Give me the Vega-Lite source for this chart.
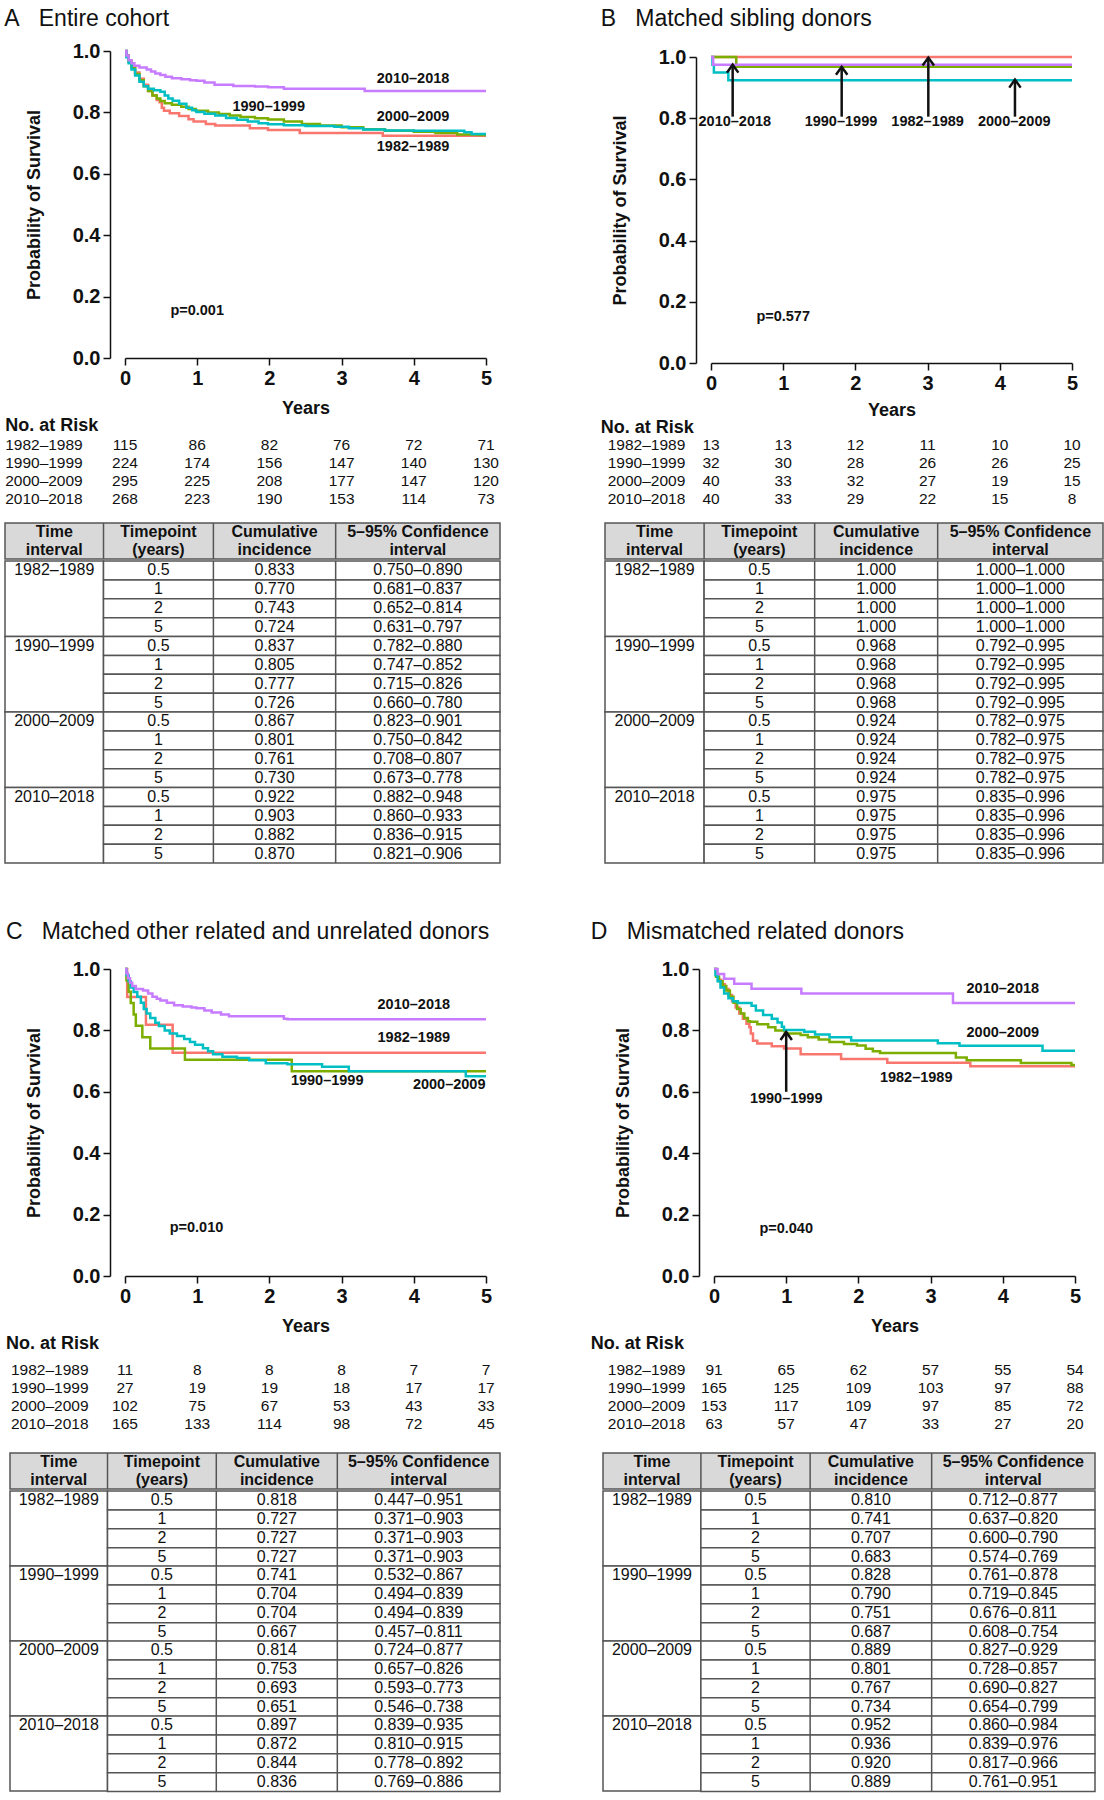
{
"$schema": "https://vega.github.io/schema/vega-lite/v6.json",
"background": "white",
"padding": {"left": 4, "top": 8, "right": 2, "bottom": 2},
"config": {
  "font": "Liberation Sans",
  "view": {"stroke": null},
  "axis": {"grid": false, "tickSize": 7, "labelPadding": 3, "domainColor": "#111", "tickColor": "#111", "domainWidth": 1.5, "tickWidth": 1.5, "labelFontSize": 20, "labelFontWeight": "bold", "titleFontSize": 18, "titleFontWeight": "bold", "labelColor": "#111", "titleColor": "#111", "labelFlush": false},
  "axisX": {"titlePadding": 11},
  "axisY": {"titlePadding": 29, "offset": 15}
},
"datasets": {
  "km": [
    {"panel":"A","period":"1982–1989","t":0,"s":1},{"panel":"A","period":"1982–1989","t":0.02,"s":0.985},{"panel":"A","period":"1982–1989","t":0.05,"s":0.97},{"panel":"A","period":"1982–1989","t":0.09,"s":0.95},{"panel":"A","period":"1982–1989","t":0.14,"s":0.93},{"panel":"A","period":"1982–1989","t":0.2,"s":0.91},{"panel":"A","period":"1982–1989","t":0.26,"s":0.89},{"panel":"A","period":"1982–1989","t":0.32,"s":0.87},{"panel":"A","period":"1982–1989","t":0.38,"s":0.855},{"panel":"A","period":"1982–1989","t":0.44,"s":0.84},{"panel":"A","period":"1982–1989","t":0.48,"s":0.833},{"panel":"A","period":"1982–1989","t":0.51,"s":0.815},{"panel":"A","period":"1982–1989","t":0.54,"s":0.805},{"panel":"A","period":"1982–1989","t":0.62,"s":0.797},{"panel":"A","period":"1982–1989","t":0.75,"s":0.788},{"panel":"A","period":"1982–1989","t":0.88,"s":0.778},{"panel":"A","period":"1982–1989","t":0.95,"s":0.77},{"panel":"A","period":"1982–1989","t":1.12,"s":0.762},{"panel":"A","period":"1982–1989","t":1.25,"s":0.757},{"panel":"A","period":"1982–1989","t":1.73,"s":0.748},{"panel":"A","period":"1982–1989","t":1.98,"s":0.743},{"panel":"A","period":"1982–1989","t":2.42,"s":0.733},{"panel":"A","period":"1982–1989","t":3.57,"s":0.724},{"panel":"A","period":"1982–1989","t":5,"s":0.724},
    {"panel":"A","period":"1990–1999","t":0,"s":1},{"panel":"A","period":"1990–1999","t":0.02,"s":0.985},{"panel":"A","period":"1990–1999","t":0.05,"s":0.965},{"panel":"A","period":"1990–1999","t":0.09,"s":0.945},{"panel":"A","period":"1990–1999","t":0.14,"s":0.925},{"panel":"A","period":"1990–1999","t":0.2,"s":0.905},{"panel":"A","period":"1990–1999","t":0.26,"s":0.885},{"panel":"A","period":"1990–1999","t":0.32,"s":0.87},{"panel":"A","period":"1990–1999","t":0.38,"s":0.855},{"panel":"A","period":"1990–1999","t":0.44,"s":0.845},{"panel":"A","period":"1990–1999","t":0.49,"s":0.837},{"panel":"A","period":"1990–1999","t":0.55,"s":0.83},{"panel":"A","period":"1990–1999","t":0.65,"s":0.825},{"panel":"A","period":"1990–1999","t":0.78,"s":0.818},{"panel":"A","period":"1990–1999","t":0.88,"s":0.811},{"panel":"A","period":"1990–1999","t":0.98,"s":0.805},{"panel":"A","period":"1990–1999","t":1.15,"s":0.8},{"panel":"A","period":"1990–1999","t":1.3,"s":0.795},{"panel":"A","period":"1990–1999","t":1.45,"s":0.79},{"panel":"A","period":"1990–1999","t":1.6,"s":0.785},{"panel":"A","period":"1990–1999","t":1.8,"s":0.781},{"panel":"A","period":"1990–1999","t":1.98,"s":0.777},{"panel":"A","period":"1990–1999","t":2.2,"s":0.77},{"panel":"A","period":"1990–1999","t":2.45,"s":0.762},{"panel":"A","period":"1990–1999","t":2.7,"s":0.757},{"panel":"A","period":"1990–1999","t":3.0,"s":0.752},{"panel":"A","period":"1990–1999","t":3.3,"s":0.745},{"panel":"A","period":"1990–1999","t":3.6,"s":0.74},{"panel":"A","period":"1990–1999","t":4.0,"s":0.737},{"panel":"A","period":"1990–1999","t":4.3,"s":0.733},{"panel":"A","period":"1990–1999","t":4.6,"s":0.728},{"panel":"A","period":"1990–1999","t":4.9,"s":0.726},{"panel":"A","period":"1990–1999","t":5,"s":0.726},
    {"panel":"A","period":"2000–2009","t":0,"s":1},{"panel":"A","period":"2000–2009","t":0.02,"s":0.98},{"panel":"A","period":"2000–2009","t":0.05,"s":0.96},{"panel":"A","period":"2000–2009","t":0.09,"s":0.94},{"panel":"A","period":"2000–2009","t":0.14,"s":0.92},{"panel":"A","period":"2000–2009","t":0.2,"s":0.9},{"panel":"A","period":"2000–2009","t":0.26,"s":0.885},{"panel":"A","period":"2000–2009","t":0.32,"s":0.877},{"panel":"A","period":"2000–2009","t":0.4,"s":0.872},{"panel":"A","period":"2000–2009","t":0.49,"s":0.867},{"panel":"A","period":"2000–2009","t":0.55,"s":0.855},{"panel":"A","period":"2000–2009","t":0.6,"s":0.845},{"panel":"A","period":"2000–2009","t":0.66,"s":0.838},{"panel":"A","period":"2000–2009","t":0.75,"s":0.828},{"panel":"A","period":"2000–2009","t":0.85,"s":0.815},{"panel":"A","period":"2000–2009","t":0.93,"s":0.807},{"panel":"A","period":"2000–2009","t":0.99,"s":0.801},{"panel":"A","period":"2000–2009","t":1.1,"s":0.796},{"panel":"A","period":"2000–2009","t":1.25,"s":0.79},{"panel":"A","period":"2000–2009","t":1.4,"s":0.782},{"panel":"A","period":"2000–2009","t":1.55,"s":0.776},{"panel":"A","period":"2000–2009","t":1.7,"s":0.77},{"panel":"A","period":"2000–2009","t":1.85,"s":0.765},{"panel":"A","period":"2000–2009","t":1.98,"s":0.761},{"panel":"A","period":"2000–2009","t":2.2,"s":0.758},{"panel":"A","period":"2000–2009","t":2.5,"s":0.756},{"panel":"A","period":"2000–2009","t":2.9,"s":0.753},{"panel":"A","period":"2000–2009","t":3.1,"s":0.748},{"panel":"A","period":"2000–2009","t":3.3,"s":0.744},{"panel":"A","period":"2000–2009","t":3.6,"s":0.741},{"panel":"A","period":"2000–2009","t":4.0,"s":0.74},{"panel":"A","period":"2000–2009","t":4.7,"s":0.735},{"panel":"A","period":"2000–2009","t":4.8,"s":0.73},{"panel":"A","period":"2000–2009","t":5,"s":0.73},
    {"panel":"A","period":"2010–2018","t":0,"s":1},{"panel":"A","period":"2010–2018","t":0.02,"s":0.985},{"panel":"A","period":"2010–2018","t":0.05,"s":0.97},{"panel":"A","period":"2010–2018","t":0.09,"s":0.96},{"panel":"A","period":"2010–2018","t":0.13,"s":0.952},{"panel":"A","period":"2010–2018","t":0.2,"s":0.946},{"panel":"A","period":"2010–2018","t":0.3,"s":0.94},{"panel":"A","period":"2010–2018","t":0.36,"s":0.933},{"panel":"A","period":"2010–2018","t":0.42,"s":0.927},{"panel":"A","period":"2010–2018","t":0.49,"s":0.922},{"panel":"A","period":"2010–2018","t":0.56,"s":0.916},{"panel":"A","period":"2010–2018","t":0.65,"s":0.911},{"panel":"A","period":"2010–2018","t":0.78,"s":0.908},{"panel":"A","period":"2010–2018","t":0.9,"s":0.905},{"panel":"A","period":"2010–2018","t":0.99,"s":0.903},{"panel":"A","period":"2010–2018","t":1.1,"s":0.897},{"panel":"A","period":"2010–2018","t":1.24,"s":0.89},{"panel":"A","period":"2010–2018","t":1.5,"s":0.886},{"panel":"A","period":"2010–2018","t":1.8,"s":0.884},{"panel":"A","period":"2010–2018","t":1.98,"s":0.882},{"panel":"A","period":"2010–2018","t":2.2,"s":0.877},{"panel":"A","period":"2010–2018","t":3.32,"s":0.87},{"panel":"A","period":"2010–2018","t":5,"s":0.87},

    {"panel":"B","period":"1982–1989","t":0,"s":1},{"panel":"B","period":"1982–1989","t":5,"s":1},
    {"panel":"B","period":"1990–1999","t":0,"s":1},{"panel":"B","period":"1990–1999","t":0.35,"s":0.968},{"panel":"B","period":"1990–1999","t":5,"s":0.968},
    {"panel":"B","period":"2000–2009","t":0,"s":1},{"panel":"B","period":"2000–2009","t":0.02,"s":0.975},{"panel":"B","period":"2000–2009","t":0.04,"s":0.949},{"panel":"B","period":"2000–2009","t":0.24,"s":0.924},{"panel":"B","period":"2000–2009","t":5,"s":0.924},
    {"panel":"B","period":"2010–2018","t":0,"s":1},{"panel":"B","period":"2010–2018","t":0.03,"s":0.975},{"panel":"B","period":"2010–2018","t":5,"s":0.975},

    {"panel":"C","period":"1982–1989","t":0,"s":1},{"panel":"C","period":"1982–1989","t":0.03,"s":0.909},{"panel":"C","period":"1982–1989","t":0.29,"s":0.818},{"panel":"C","period":"1982–1989","t":0.66,"s":0.727},{"panel":"C","period":"1982–1989","t":5,"s":0.727},
    {"panel":"C","period":"1990–1999","t":0,"s":1},{"panel":"C","period":"1990–1999","t":0.02,"s":0.963},{"panel":"C","period":"1990–1999","t":0.05,"s":0.926},{"panel":"C","period":"1990–1999","t":0.08,"s":0.889},{"panel":"C","period":"1990–1999","t":0.12,"s":0.852},{"panel":"C","period":"1990–1999","t":0.15,"s":0.815},{"panel":"C","period":"1990–1999","t":0.24,"s":0.778},{"panel":"C","period":"1990–1999","t":0.35,"s":0.741},{"panel":"C","period":"1990–1999","t":0.83,"s":0.704},{"panel":"C","period":"1990–1999","t":2.31,"s":0.667},{"panel":"C","period":"1990–1999","t":5,"s":0.667},
    {"panel":"C","period":"2000–2009","t":0,"s":1},{"panel":"C","period":"2000–2009","t":0.02,"s":0.98},{"panel":"C","period":"2000–2009","t":0.05,"s":0.96},{"panel":"C","period":"2000–2009","t":0.08,"s":0.94},{"panel":"C","period":"2000–2009","t":0.12,"s":0.925},{"panel":"C","period":"2000–2009","t":0.17,"s":0.91},{"panel":"C","period":"2000–2009","t":0.22,"s":0.89},{"panel":"C","period":"2000–2009","t":0.26,"s":0.87},{"panel":"C","period":"2000–2009","t":0.3,"s":0.855},{"panel":"C","period":"2000–2009","t":0.35,"s":0.84},{"panel":"C","period":"2000–2009","t":0.42,"s":0.825},{"panel":"C","period":"2000–2009","t":0.47,"s":0.814},{"panel":"C","period":"2000–2009","t":0.55,"s":0.8},{"panel":"C","period":"2000–2009","t":0.62,"s":0.79},{"panel":"C","period":"2000–2009","t":0.72,"s":0.782},{"panel":"C","period":"2000–2009","t":0.82,"s":0.772},{"panel":"C","period":"2000–2009","t":0.9,"s":0.762},{"panel":"C","period":"2000–2009","t":0.97,"s":0.753},{"panel":"C","period":"2000–2009","t":1.08,"s":0.742},{"panel":"C","period":"2000–2009","t":1.15,"s":0.732},{"panel":"C","period":"2000–2009","t":1.22,"s":0.722},{"panel":"C","period":"2000–2009","t":1.35,"s":0.714},{"panel":"C","period":"2000–2009","t":1.55,"s":0.71},{"panel":"C","period":"2000–2009","t":1.72,"s":0.703},{"panel":"C","period":"2000–2009","t":1.95,"s":0.693},{"panel":"C","period":"2000–2009","t":2.25,"s":0.69},{"panel":"C","period":"2000–2009","t":2.73,"s":0.682},{"panel":"C","period":"2000–2009","t":3.1,"s":0.667},{"panel":"C","period":"2000–2009","t":4.72,"s":0.651},{"panel":"C","period":"2000–2009","t":5,"s":0.651},
    {"panel":"C","period":"2010–2018","t":0,"s":1},{"panel":"C","period":"2010–2018","t":0.02,"s":0.985},{"panel":"C","period":"2010–2018","t":0.04,"s":0.97},{"panel":"C","period":"2010–2018","t":0.07,"s":0.955},{"panel":"C","period":"2010–2018","t":0.1,"s":0.945},{"panel":"C","period":"2010–2018","t":0.15,"s":0.935},{"panel":"C","period":"2010–2018","t":0.25,"s":0.93},{"panel":"C","period":"2010–2018","t":0.32,"s":0.92},{"panel":"C","period":"2010–2018","t":0.38,"s":0.91},{"panel":"C","period":"2010–2018","t":0.44,"s":0.903},{"panel":"C","period":"2010–2018","t":0.49,"s":0.897},{"panel":"C","period":"2010–2018","t":0.58,"s":0.89},{"panel":"C","period":"2010–2018","t":0.68,"s":0.882},{"panel":"C","period":"2010–2018","t":0.8,"s":0.878},{"panel":"C","period":"2010–2018","t":0.92,"s":0.875},{"panel":"C","period":"2010–2018","t":0.99,"s":0.872},{"panel":"C","period":"2010–2018","t":1.1,"s":0.865},{"panel":"C","period":"2010–2018","t":1.2,"s":0.858},{"panel":"C","period":"2010–2018","t":1.33,"s":0.852},{"panel":"C","period":"2010–2018","t":1.44,"s":0.846},{"panel":"C","period":"2010–2018","t":2.2,"s":0.838},{"panel":"C","period":"2010–2018","t":2.25,"s":0.836},{"panel":"C","period":"2010–2018","t":5,"s":0.836},

    {"panel":"D","period":"1982–1989","t":0,"s":1},{"panel":"D","period":"1982–1989","t":0.03,"s":0.98},{"panel":"D","period":"1982–1989","t":0.06,"s":0.965},{"panel":"D","period":"1982–1989","t":0.1,"s":0.95},{"panel":"D","period":"1982–1989","t":0.15,"s":0.935},{"panel":"D","period":"1982–1989","t":0.2,"s":0.915},{"panel":"D","period":"1982–1989","t":0.25,"s":0.895},{"panel":"D","period":"1982–1989","t":0.3,"s":0.875},{"panel":"D","period":"1982–1989","t":0.35,"s":0.855},{"panel":"D","period":"1982–1989","t":0.4,"s":0.838},{"panel":"D","period":"1982–1989","t":0.45,"s":0.822},{"panel":"D","period":"1982–1989","t":0.49,"s":0.81},{"panel":"D","period":"1982–1989","t":0.51,"s":0.79},{"panel":"D","period":"1982–1989","t":0.54,"s":0.766},{"panel":"D","period":"1982–1989","t":0.6,"s":0.757},{"panel":"D","period":"1982–1989","t":0.8,"s":0.748},{"panel":"D","period":"1982–1989","t":0.97,"s":0.741},{"panel":"D","period":"1982–1989","t":1.2,"s":0.722},{"panel":"D","period":"1982–1989","t":1.76,"s":0.707},{"panel":"D","period":"1982–1989","t":2.4,"s":0.695},{"panel":"D","period":"1982–1989","t":3.55,"s":0.683},{"panel":"D","period":"1982–1989","t":5,"s":0.683},
    {"panel":"D","period":"1990–1999","t":0,"s":1},{"panel":"D","period":"1990–1999","t":0.03,"s":0.975},{"panel":"D","period":"1990–1999","t":0.07,"s":0.96},{"panel":"D","period":"1990–1999","t":0.12,"s":0.945},{"panel":"D","period":"1990–1999","t":0.17,"s":0.93},{"panel":"D","period":"1990–1999","t":0.22,"s":0.91},{"panel":"D","period":"1990–1999","t":0.27,"s":0.89},{"panel":"D","period":"1990–1999","t":0.32,"s":0.87},{"panel":"D","period":"1990–1999","t":0.37,"s":0.855},{"panel":"D","period":"1990–1999","t":0.42,"s":0.84},{"panel":"D","period":"1990–1999","t":0.47,"s":0.83},{"panel":"D","period":"1990–1999","t":0.5,"s":0.828},{"panel":"D","period":"1990–1999","t":0.6,"s":0.82},{"panel":"D","period":"1990–1999","t":0.75,"s":0.81},{"panel":"D","period":"1990–1999","t":0.85,"s":0.8},{"panel":"D","period":"1990–1999","t":0.98,"s":0.79},{"panel":"D","period":"1990–1999","t":1.2,"s":0.785},{"panel":"D","period":"1990–1999","t":1.3,"s":0.778},{"panel":"D","period":"1990–1999","t":1.45,"s":0.77},{"panel":"D","period":"1990–1999","t":1.6,"s":0.762},{"panel":"D","period":"1990–1999","t":1.8,"s":0.756},{"panel":"D","period":"1990–1999","t":1.98,"s":0.751},{"panel":"D","period":"1990–1999","t":2.1,"s":0.74},{"panel":"D","period":"1990–1999","t":2.2,"s":0.732},{"panel":"D","period":"1990–1999","t":2.3,"s":0.726},{"panel":"D","period":"1990–1999","t":3.35,"s":0.712},{"panel":"D","period":"1990–1999","t":3.5,"s":0.703},{"panel":"D","period":"1990–1999","t":4.25,"s":0.694},{"panel":"D","period":"1990–1999","t":4.95,"s":0.687},{"panel":"D","period":"1990–1999","t":5,"s":0.687},
    {"panel":"D","period":"2000–2009","t":0,"s":1},{"panel":"D","period":"2000–2009","t":0.02,"s":0.98},{"panel":"D","period":"2000–2009","t":0.05,"s":0.96},{"panel":"D","period":"2000–2009","t":0.09,"s":0.94},{"panel":"D","period":"2000–2009","t":0.14,"s":0.92},{"panel":"D","period":"2000–2009","t":0.2,"s":0.905},{"panel":"D","period":"2000–2009","t":0.26,"s":0.895},{"panel":"D","period":"2000–2009","t":0.33,"s":0.889},{"panel":"D","period":"2000–2009","t":0.52,"s":0.88},{"panel":"D","period":"2000–2009","t":0.58,"s":0.865},{"panel":"D","period":"2000–2009","t":0.68,"s":0.85},{"panel":"D","period":"2000–2009","t":0.8,"s":0.838},{"panel":"D","period":"2000–2009","t":0.88,"s":0.826},{"panel":"D","period":"2000–2009","t":0.94,"s":0.812},{"panel":"D","period":"2000–2009","t":0.97,"s":0.801},{"panel":"D","period":"2000–2009","t":1.25,"s":0.796},{"panel":"D","period":"2000–2009","t":1.4,"s":0.787},{"panel":"D","period":"2000–2009","t":1.6,"s":0.778},{"panel":"D","period":"2000–2009","t":1.9,"s":0.767},{"panel":"D","period":"2000–2009","t":3.1,"s":0.758},{"panel":"D","period":"2000–2009","t":3.4,"s":0.75},{"panel":"D","period":"2000–2009","t":4.55,"s":0.734},{"panel":"D","period":"2000–2009","t":5,"s":0.734},
    {"panel":"D","period":"2010–2018","t":0,"s":1},{"panel":"D","period":"2010–2018","t":0.05,"s":0.984},{"panel":"D","period":"2010–2018","t":0.14,"s":0.968},{"panel":"D","period":"2010–2018","t":0.28,"s":0.952},{"panel":"D","period":"2010–2018","t":0.52,"s":0.936},{"panel":"D","period":"2010–2018","t":1.21,"s":0.92},{"panel":"D","period":"2010–2018","t":3.31,"s":0.889},{"panel":"D","period":"2010–2018","t":5,"s":0.889}
  ],
  "ann": [
    {"panel":"A","label":"2010–2018","t":3.99,"s":0.909},{"panel":"A","label":"1990–1999","t":1.99,"s":0.818},{"panel":"A","label":"2000–2009","t":3.99,"s":0.785},{"panel":"A","label":"1982–1989","t":3.99,"s":0.687},{"panel":"A","label":"p=0.001","t":1.0,"s":0.153},
    {"panel":"B","label":"2010–2018","t":0.33,"s":0.786},{"panel":"B","label":"1990–1999","t":1.8,"s":0.786},{"panel":"B","label":"1982–1989","t":3.0,"s":0.786},{"panel":"B","label":"2000–2009","t":4.2,"s":0.786},{"panel":"B","label":"p=0.577","t":1.0,"s":0.151},
    {"panel":"C","label":"2010–2018","t":4.0,"s":0.883},{"panel":"C","label":"1982–1989","t":4.0,"s":0.775},{"panel":"C","label":"1990–1999","t":2.8,"s":0.634},{"panel":"C","label":"2000–2009","t":4.49,"s":0.622},{"panel":"C","label":"p=0.010","t":0.99,"s":0.157},
    {"panel":"D","label":"2010–2018","t":4.0,"s":0.935},{"panel":"D","label":"2000–2009","t":4.0,"s":0.79},{"panel":"D","label":"1982–1989","t":2.8,"s":0.645},{"panel":"D","label":"1990–1999","t":1.0,"s":0.577},{"panel":"D","label":"p=0.040","t":1.0,"s":0.154}
  ],
  "arrows": [
    {"panel":"B","t":0.3,"s0":0.805,"s1":0.975},{"panel":"B","t":1.81,"s0":0.805,"s1":0.968},{"panel":"B","t":3.01,"s0":0.805,"s1":0.998},{"panel":"B","t":4.21,"s0":0.805,"s1":0.926},
    {"panel":"D","t":1.0,"s0":0.6,"s1":0.795}
  ],
  "risk": [
    {"panel":"A","period":"1982–1989","t":0,"n":115},{"panel":"A","period":"1982–1989","t":1,"n":86},{"panel":"A","period":"1982–1989","t":2,"n":82},{"panel":"A","period":"1982–1989","t":3,"n":76},{"panel":"A","period":"1982–1989","t":4,"n":72},{"panel":"A","period":"1982–1989","t":5,"n":71},
    {"panel":"A","period":"1990–1999","t":0,"n":224},{"panel":"A","period":"1990–1999","t":1,"n":174},{"panel":"A","period":"1990–1999","t":2,"n":156},{"panel":"A","period":"1990–1999","t":3,"n":147},{"panel":"A","period":"1990–1999","t":4,"n":140},{"panel":"A","period":"1990–1999","t":5,"n":130},
    {"panel":"A","period":"2000–2009","t":0,"n":295},{"panel":"A","period":"2000–2009","t":1,"n":225},{"panel":"A","period":"2000–2009","t":2,"n":208},{"panel":"A","period":"2000–2009","t":3,"n":177},{"panel":"A","period":"2000–2009","t":4,"n":147},{"panel":"A","period":"2000–2009","t":5,"n":120},
    {"panel":"A","period":"2010–2018","t":0,"n":268},{"panel":"A","period":"2010–2018","t":1,"n":223},{"panel":"A","period":"2010–2018","t":2,"n":190},{"panel":"A","period":"2010–2018","t":3,"n":153},{"panel":"A","period":"2010–2018","t":4,"n":114},{"panel":"A","period":"2010–2018","t":5,"n":73},
    {"panel":"B","period":"1982–1989","t":0,"n":13},{"panel":"B","period":"1982–1989","t":1,"n":13},{"panel":"B","period":"1982–1989","t":2,"n":12},{"panel":"B","period":"1982–1989","t":3,"n":11},{"panel":"B","period":"1982–1989","t":4,"n":10},{"panel":"B","period":"1982–1989","t":5,"n":10},
    {"panel":"B","period":"1990–1999","t":0,"n":32},{"panel":"B","period":"1990–1999","t":1,"n":30},{"panel":"B","period":"1990–1999","t":2,"n":28},{"panel":"B","period":"1990–1999","t":3,"n":26},{"panel":"B","period":"1990–1999","t":4,"n":26},{"panel":"B","period":"1990–1999","t":5,"n":25},
    {"panel":"B","period":"2000–2009","t":0,"n":40},{"panel":"B","period":"2000–2009","t":1,"n":33},{"panel":"B","period":"2000–2009","t":2,"n":32},{"panel":"B","period":"2000–2009","t":3,"n":27},{"panel":"B","period":"2000–2009","t":4,"n":19},{"panel":"B","period":"2000–2009","t":5,"n":15},
    {"panel":"B","period":"2010–2018","t":0,"n":40},{"panel":"B","period":"2010–2018","t":1,"n":33},{"panel":"B","period":"2010–2018","t":2,"n":29},{"panel":"B","period":"2010–2018","t":3,"n":22},{"panel":"B","period":"2010–2018","t":4,"n":15},{"panel":"B","period":"2010–2018","t":5,"n":8},
    {"panel":"C","period":"1982–1989","t":0,"n":11},{"panel":"C","period":"1982–1989","t":1,"n":8},{"panel":"C","period":"1982–1989","t":2,"n":8},{"panel":"C","period":"1982–1989","t":3,"n":8},{"panel":"C","period":"1982–1989","t":4,"n":7},{"panel":"C","period":"1982–1989","t":5,"n":7},
    {"panel":"C","period":"1990–1999","t":0,"n":27},{"panel":"C","period":"1990–1999","t":1,"n":19},{"panel":"C","period":"1990–1999","t":2,"n":19},{"panel":"C","period":"1990–1999","t":3,"n":18},{"panel":"C","period":"1990–1999","t":4,"n":17},{"panel":"C","period":"1990–1999","t":5,"n":17},
    {"panel":"C","period":"2000–2009","t":0,"n":102},{"panel":"C","period":"2000–2009","t":1,"n":75},{"panel":"C","period":"2000–2009","t":2,"n":67},{"panel":"C","period":"2000–2009","t":3,"n":53},{"panel":"C","period":"2000–2009","t":4,"n":43},{"panel":"C","period":"2000–2009","t":5,"n":33},
    {"panel":"C","period":"2010–2018","t":0,"n":165},{"panel":"C","period":"2010–2018","t":1,"n":133},{"panel":"C","period":"2010–2018","t":2,"n":114},{"panel":"C","period":"2010–2018","t":3,"n":98},{"panel":"C","period":"2010–2018","t":4,"n":72},{"panel":"C","period":"2010–2018","t":5,"n":45},
    {"panel":"D","period":"1982–1989","t":0,"n":91},{"panel":"D","period":"1982–1989","t":1,"n":65},{"panel":"D","period":"1982–1989","t":2,"n":62},{"panel":"D","period":"1982–1989","t":3,"n":57},{"panel":"D","period":"1982–1989","t":4,"n":55},{"panel":"D","period":"1982–1989","t":5,"n":54},
    {"panel":"D","period":"1990–1999","t":0,"n":165},{"panel":"D","period":"1990–1999","t":1,"n":125},{"panel":"D","period":"1990–1999","t":2,"n":109},{"panel":"D","period":"1990–1999","t":3,"n":103},{"panel":"D","period":"1990–1999","t":4,"n":97},{"panel":"D","period":"1990–1999","t":5,"n":88},
    {"panel":"D","period":"2000–2009","t":0,"n":153},{"panel":"D","period":"2000–2009","t":1,"n":117},{"panel":"D","period":"2000–2009","t":2,"n":109},{"panel":"D","period":"2000–2009","t":3,"n":97},{"panel":"D","period":"2000–2009","t":4,"n":85},{"panel":"D","period":"2000–2009","t":5,"n":72},
    {"panel":"D","period":"2010–2018","t":0,"n":63},{"panel":"D","period":"2010–2018","t":1,"n":57},{"panel":"D","period":"2010–2018","t":2,"n":47},{"panel":"D","period":"2010–2018","t":3,"n":33},{"panel":"D","period":"2010–2018","t":4,"n":27},{"panel":"D","period":"2010–2018","t":5,"n":20}
  ],
  "thead": [
    {"line":"1","c1":"Time","c2":"Timepoint","c3":"Cumulative","c4":"5–95% Confidence"},
    {"line":"2","c1":"interval","c2":"(years)","c3":"incidence","c4":"interval"}
  ],
  "tbl": [
    {"panel":"A","period":"1982–1989","tp":"0.5","ci":"0.833","conf":"0.750–0.890"},{"panel":"A","period":"1982–1989","tp":"1","ci":"0.770","conf":"0.681–0.837"},{"panel":"A","period":"1982–1989","tp":"2","ci":"0.743","conf":"0.652–0.814"},{"panel":"A","period":"1982–1989","tp":"5","ci":"0.724","conf":"0.631–0.797"},
    {"panel":"A","period":"1990–1999","tp":"0.5","ci":"0.837","conf":"0.782–0.880"},{"panel":"A","period":"1990–1999","tp":"1","ci":"0.805","conf":"0.747–0.852"},{"panel":"A","period":"1990–1999","tp":"2","ci":"0.777","conf":"0.715–0.826"},{"panel":"A","period":"1990–1999","tp":"5","ci":"0.726","conf":"0.660–0.780"},
    {"panel":"A","period":"2000–2009","tp":"0.5","ci":"0.867","conf":"0.823–0.901"},{"panel":"A","period":"2000–2009","tp":"1","ci":"0.801","conf":"0.750–0.842"},{"panel":"A","period":"2000–2009","tp":"2","ci":"0.761","conf":"0.708–0.807"},{"panel":"A","period":"2000–2009","tp":"5","ci":"0.730","conf":"0.673–0.778"},
    {"panel":"A","period":"2010–2018","tp":"0.5","ci":"0.922","conf":"0.882–0.948"},{"panel":"A","period":"2010–2018","tp":"1","ci":"0.903","conf":"0.860–0.933"},{"panel":"A","period":"2010–2018","tp":"2","ci":"0.882","conf":"0.836–0.915"},{"panel":"A","period":"2010–2018","tp":"5","ci":"0.870","conf":"0.821–0.906"},
    {"panel":"B","period":"1982–1989","tp":"0.5","ci":"1.000","conf":"1.000–1.000"},{"panel":"B","period":"1982–1989","tp":"1","ci":"1.000","conf":"1.000–1.000"},{"panel":"B","period":"1982–1989","tp":"2","ci":"1.000","conf":"1.000–1.000"},{"panel":"B","period":"1982–1989","tp":"5","ci":"1.000","conf":"1.000–1.000"},
    {"panel":"B","period":"1990–1999","tp":"0.5","ci":"0.968","conf":"0.792–0.995"},{"panel":"B","period":"1990–1999","tp":"1","ci":"0.968","conf":"0.792–0.995"},{"panel":"B","period":"1990–1999","tp":"2","ci":"0.968","conf":"0.792–0.995"},{"panel":"B","period":"1990–1999","tp":"5","ci":"0.968","conf":"0.792–0.995"},
    {"panel":"B","period":"2000–2009","tp":"0.5","ci":"0.924","conf":"0.782–0.975"},{"panel":"B","period":"2000–2009","tp":"1","ci":"0.924","conf":"0.782–0.975"},{"panel":"B","period":"2000–2009","tp":"2","ci":"0.924","conf":"0.782–0.975"},{"panel":"B","period":"2000–2009","tp":"5","ci":"0.924","conf":"0.782–0.975"},
    {"panel":"B","period":"2010–2018","tp":"0.5","ci":"0.975","conf":"0.835–0.996"},{"panel":"B","period":"2010–2018","tp":"1","ci":"0.975","conf":"0.835–0.996"},{"panel":"B","period":"2010–2018","tp":"2","ci":"0.975","conf":"0.835–0.996"},{"panel":"B","period":"2010–2018","tp":"5","ci":"0.975","conf":"0.835–0.996"},
    {"panel":"C","period":"1982–1989","tp":"0.5","ci":"0.818","conf":"0.447–0.951"},{"panel":"C","period":"1982–1989","tp":"1","ci":"0.727","conf":"0.371–0.903"},{"panel":"C","period":"1982–1989","tp":"2","ci":"0.727","conf":"0.371–0.903"},{"panel":"C","period":"1982–1989","tp":"5","ci":"0.727","conf":"0.371–0.903"},
    {"panel":"C","period":"1990–1999","tp":"0.5","ci":"0.741","conf":"0.532–0.867"},{"panel":"C","period":"1990–1999","tp":"1","ci":"0.704","conf":"0.494–0.839"},{"panel":"C","period":"1990–1999","tp":"2","ci":"0.704","conf":"0.494–0.839"},{"panel":"C","period":"1990–1999","tp":"5","ci":"0.667","conf":"0.457–0.811"},
    {"panel":"C","period":"2000–2009","tp":"0.5","ci":"0.814","conf":"0.724–0.877"},{"panel":"C","period":"2000–2009","tp":"1","ci":"0.753","conf":"0.657–0.826"},{"panel":"C","period":"2000–2009","tp":"2","ci":"0.693","conf":"0.593–0.773"},{"panel":"C","period":"2000–2009","tp":"5","ci":"0.651","conf":"0.546–0.738"},
    {"panel":"C","period":"2010–2018","tp":"0.5","ci":"0.897","conf":"0.839–0.935"},{"panel":"C","period":"2010–2018","tp":"1","ci":"0.872","conf":"0.810–0.915"},{"panel":"C","period":"2010–2018","tp":"2","ci":"0.844","conf":"0.778–0.892"},{"panel":"C","period":"2010–2018","tp":"5","ci":"0.836","conf":"0.769–0.886"},
    {"panel":"D","period":"1982–1989","tp":"0.5","ci":"0.810","conf":"0.712–0.877"},{"panel":"D","period":"1982–1989","tp":"1","ci":"0.741","conf":"0.637–0.820"},{"panel":"D","period":"1982–1989","tp":"2","ci":"0.707","conf":"0.600–0.790"},{"panel":"D","period":"1982–1989","tp":"5","ci":"0.683","conf":"0.574–0.769"},
    {"panel":"D","period":"1990–1999","tp":"0.5","ci":"0.828","conf":"0.761–0.878"},{"panel":"D","period":"1990–1999","tp":"1","ci":"0.790","conf":"0.719–0.845"},{"panel":"D","period":"1990–1999","tp":"2","ci":"0.751","conf":"0.676–0.811"},{"panel":"D","period":"1990–1999","tp":"5","ci":"0.687","conf":"0.608–0.754"},
    {"panel":"D","period":"2000–2009","tp":"0.5","ci":"0.889","conf":"0.827–0.929"},{"panel":"D","period":"2000–2009","tp":"1","ci":"0.801","conf":"0.728–0.857"},{"panel":"D","period":"2000–2009","tp":"2","ci":"0.767","conf":"0.690–0.827"},{"panel":"D","period":"2000–2009","tp":"5","ci":"0.734","conf":"0.654–0.799"},
    {"panel":"D","period":"2010–2018","tp":"0.5","ci":"0.952","conf":"0.860–0.984"},{"panel":"D","period":"2010–2018","tp":"1","ci":"0.936","conf":"0.839–0.976"},{"panel":"D","period":"2010–2018","tp":"2","ci":"0.920","conf":"0.817–0.966"},{"panel":"D","period":"2010–2018","tp":"5","ci":"0.889","conf":"0.761–0.951"}
  ]
},
"spacing": 57,
"vconcat": [
 {"spacing": 99, "hconcat": [
  {
   "title": {"text": "A\u00a0\u00a0\u00a0Entire cohort", "anchor": "start", "frame": "bounds", "fontSize": 23, "fontWeight": "normal", "offset": 10, "color": "#111"},
   "spacing": 0,
   "vconcat": [
    {"width": 361, "height": 307, "layer": [
      {"data": {"name": "km"}, "transform": [{"filter": "datum.panel == 'A'"}],
       "mark": {"type": "line", "interpolate": "step-after", "strokeWidth": 2.5},
       "encoding": {
         "x": {"field": "t", "type": "quantitative", "scale": {"domain": [0, 5], "nice": false, "zero": false}, "axis": {"values": [0,1,2,3,4,5], "format": "d", "title": "Years"}},
         "y": {"field": "s", "type": "quantitative", "scale": {"domain": [0, 1], "nice": false}, "axis": {"values": [0,0.2,0.4,0.6,0.8,1], "format": ".1f", "title": "Probability of Survival"}},
         "color": {"field": "period", "type": "nominal", "scale": {"domain": ["1982–1989","1990–1999","2000–2009","2010–2018"], "range": ["#F8766D","#7CAE00","#00BFC4","#C77CFF"]}, "legend": null}}},
      {"data": {"name": "ann"}, "transform": [{"filter": "datum.panel == 'A'"}],
       "mark": {"type": "text", "fontSize": 14.5, "fontWeight": "bold", "color": "#111"},
       "encoding": {"x": {"field": "t", "type": "quantitative"}, "y": {"field": "s", "type": "quantitative"}, "text": {"field": "label"}}}
    ]},
    {"width": 361, "height": 86,
     "title": {"text": "No. at Risk", "anchor": "start", "frame": "bounds", "fontSize": 18, "fontWeight": "bold", "offset": 1, "color": "#111"},
     "data": {"name": "risk"}, "transform": [{"filter": "datum.panel == 'A'"}],
     "layer": [
      {"mark": {"type": "text", "fontSize": 15.5, "color": "#111"},
       "encoding": {"x": {"field": "t", "type": "quantitative", "scale": {"domain": [0, 5], "nice": false}, "axis": null},
                    "y": {"field": "period", "type": "nominal", "scale": {"type": "band", "domain": ["1982–1989","1990–1999","2000–2009","2010–2018"], "paddingInner": 0, "paddingOuter": 0.389, "align": 0}, "axis": null},
                    "text": {"field": "n"}}},
      {"transform": [{"filter": "datum.t == 0"}],
       "mark": {"type": "text", "fontSize": 15.5, "align": "left", "color": "#111"},
       "encoding": {"x": {"datum": -1.66, "type": "quantitative"}, "y": {"field": "period", "type": "nominal", "axis": null}, "text": {"field": "period"}}}
     ]},
    {"width": 361, "height": 36, "layer": [
      {"data": {"values": [{}]}, "mark": {"type": "rect", "fill": "#d9d9d9", "stroke": "#555", "strokeWidth": 1.5},
       "encoding": {"x": {"datum": 0, "type": "quantitative", "scale": {"domain": [0, 100], "range": [-120, 375]}, "axis": null}, "x2": {"datum": 100}}},
      {"data": {"values": [{}]}, "mark": {"type": "rule", "stroke": "#555", "strokeWidth": 1.5}, "encoding": {"x": {"datum": 19.9, "type": "quantitative"}}},
      {"data": {"values": [{}]}, "mark": {"type": "rule", "stroke": "#555", "strokeWidth": 1.5}, "encoding": {"x": {"datum": 42.1, "type": "quantitative"}}},
      {"data": {"values": [{}]}, "mark": {"type": "rule", "stroke": "#555", "strokeWidth": 1.5}, "encoding": {"x": {"datum": 66.8, "type": "quantitative"}}},
      {"data": {"name": "thead"}, "mark": {"type": "text", "fontSize": 16, "fontWeight": "bold", "color": "#111"}, "encoding": {"x": {"datum": 9.95, "type": "quantitative"}, "y": {"field": "line", "type": "ordinal", "scale": {"type": "band", "paddingInner": 0, "paddingOuter": 0.05}, "axis": null}, "text": {"field": "c1"}}},
      {"data": {"name": "thead"}, "mark": {"type": "text", "fontSize": 16, "fontWeight": "bold", "color": "#111"}, "encoding": {"x": {"datum": 31.0, "type": "quantitative"}, "y": {"field": "line", "type": "ordinal", "axis": null}, "text": {"field": "c2"}}},
      {"data": {"name": "thead"}, "mark": {"type": "text", "fontSize": 16, "fontWeight": "bold", "color": "#111"}, "encoding": {"x": {"datum": 54.45, "type": "quantitative"}, "y": {"field": "line", "type": "ordinal", "axis": null}, "text": {"field": "c3"}}},
      {"data": {"name": "thead"}, "mark": {"type": "text", "fontSize": 16, "fontWeight": "bold", "color": "#111"}, "encoding": {"x": {"datum": 83.4, "type": "quantitative"}, "y": {"field": "line", "type": "ordinal", "axis": null}, "text": {"field": "c4"}}}
    ]},
    {"width": 361, "height": 302, "layer": [
      {"data": {"name": "tbl"}, "transform": [{"filter": "datum.panel == 'A' && datum.tp == '0.5'"}],
       "mark": {"type": "bar", "fill": "white", "stroke": "#555", "strokeWidth": 1.5},
       "encoding": {"x": {"datum": 0, "type": "quantitative", "scale": {"domain": [0, 100], "range": [-120, 375]}, "axis": null}, "x2": {"datum": 19.9},
                    "y": {"field": "period", "type": "nominal", "scale": {"domain": ["1982–1989","1990–1999","2000–2009","2010–2018"], "paddingInner": 0, "paddingOuter": 0}, "axis": null}}},
      {"data": {"name": "tbl"}, "transform": [{"filter": "datum.panel == 'A'"}],
       "mark": {"type": "bar", "fill": "white", "stroke": "#555", "strokeWidth": 1.5},
       "encoding": {"x": {"datum": 19.9, "type": "quantitative"}, "x2": {"datum": 100}, "y": {"field": "period", "type": "nominal", "axis": null},
                    "yOffset": {"field": "tp", "type": "nominal", "scale": {"domain": ["0.5","1","2","5"], "paddingInner": 0, "paddingOuter": 0}}}},
      {"data": {"values": [{}]}, "mark": {"type": "rule", "stroke": "#555", "strokeWidth": 1.5}, "encoding": {"x": {"datum": 42.1, "type": "quantitative"}}},
      {"data": {"values": [{}]}, "mark": {"type": "rule", "stroke": "#555", "strokeWidth": 1.5}, "encoding": {"x": {"datum": 66.8, "type": "quantitative"}}},
      {"data": {"name": "tbl"}, "transform": [{"filter": "datum.panel == 'A' && datum.tp == '0.5'"}],
       "mark": {"type": "text", "fontSize": 16, "color": "#111"},
       "encoding": {"x": {"datum": 9.95, "type": "quantitative"}, "y": {"field": "period", "type": "nominal", "axis": null}, "yOffset": {"field": "tp", "type": "nominal"}, "text": {"field": "period"}}},
      {"data": {"name": "tbl"}, "transform": [{"filter": "datum.panel == 'A'"}],
       "mark": {"type": "text", "fontSize": 16, "color": "#111"},
       "encoding": {"x": {"datum": 31.0, "type": "quantitative"}, "y": {"field": "period", "type": "nominal", "axis": null}, "yOffset": {"field": "tp", "type": "nominal"}, "text": {"field": "tp"}}},
      {"data": {"name": "tbl"}, "transform": [{"filter": "datum.panel == 'A'"}],
       "mark": {"type": "text", "fontSize": 16, "color": "#111"},
       "encoding": {"x": {"datum": 54.45, "type": "quantitative"}, "y": {"field": "period", "type": "nominal", "axis": null}, "yOffset": {"field": "tp", "type": "nominal"}, "text": {"field": "ci"}}},
      {"data": {"name": "tbl"}, "transform": [{"filter": "datum.panel == 'A'"}],
       "mark": {"type": "text", "fontSize": 16, "color": "#111"},
       "encoding": {"x": {"datum": 83.4, "type": "quantitative"}, "y": {"field": "period", "type": "nominal", "axis": null}, "yOffset": {"field": "tp", "type": "nominal"}, "text": {"field": "conf"}}}
    ]}
   ]
  },
  {
   "title": {"text": "B\u00a0\u00a0\u00a0Matched sibling donors", "anchor": "start", "frame": "bounds", "fontSize": 23, "fontWeight": "normal", "offset": 16, "color": "#111"},
   "spacing": 0,
   "vconcat": [
    {"width": 361, "height": 312, "layer": [
      {"data": {"name": "km"}, "transform": [{"filter": "datum.panel == 'B'"}],
       "mark": {"type": "line", "interpolate": "step-after", "strokeWidth": 2.5},
       "encoding": {
         "x": {"field": "t", "type": "quantitative", "scale": {"domain": [0, 5], "nice": false, "zero": false}, "axis": {"values": [0,1,2,3,4,5], "format": "d", "title": "Years", "titlePadding": 8}},
         "y": {"field": "s", "type": "quantitative", "scale": {"domain": [0, 1], "nice": false, "range": [312, 6]}, "axis": {"values": [0,0.2,0.4,0.6,0.8,1], "format": ".1f", "title": "Probability of Survival"}},
         "color": {"field": "period", "type": "nominal", "scale": {"domain": ["1982–1989","1990–1999","2000–2009","2010–2018"], "range": ["#F8766D","#7CAE00","#00BFC4","#C77CFF"]}, "legend": null}}},
      {"data": {"name": "arrows"}, "transform": [{"filter": "datum.panel == 'B'"}],
       "mark": {"type": "rule", "strokeWidth": 2.5, "color": "#111"},
       "encoding": {"x": {"field": "t", "type": "quantitative"}, "y": {"field": "s0", "type": "quantitative"}, "y2": {"field": "s1"}}},
      {"data": {"name": "arrows"}, "transform": [{"filter": "datum.panel == 'B'"}],
       "mark": {"type": "point", "shape": "M-1,1.4L0,0L1,1.4", "size": 130, "filled": false, "strokeWidth": 2.5, "color": "#111", "opacity": 1},
       "encoding": {"x": {"field": "t", "type": "quantitative"}, "y": {"field": "s1", "type": "quantitative"}}},
      {"data": {"name": "ann"}, "transform": [{"filter": "datum.panel == 'B'"}],
       "mark": {"type": "text", "fontSize": 14.5, "fontWeight": "bold", "color": "#111"},
       "encoding": {"x": {"field": "t", "type": "quantitative"}, "y": {"field": "s", "type": "quantitative"}, "text": {"field": "label"}}}
    ]},
    {"width": 361, "height": 86,
     "title": {"text": "No. at Risk", "anchor": "start", "frame": "bounds", "fontSize": 18, "fontWeight": "bold", "offset": -1, "dx": -7, "color": "#111"},
     "data": {"name": "risk"}, "transform": [{"filter": "datum.panel == 'B'"}],
     "layer": [
      {"mark": {"type": "text", "fontSize": 15.5, "color": "#111"},
       "encoding": {"x": {"field": "t", "type": "quantitative", "scale": {"domain": [0, 5], "nice": false}, "axis": null},
                    "y": {"field": "period", "type": "nominal", "scale": {"type": "band", "domain": ["1982–1989","1990–1999","2000–2009","2010–2018"], "paddingInner": 0, "paddingOuter": 0.389, "align": 0}, "axis": null},
                    "text": {"field": "n"}}},
      {"transform": [{"filter": "datum.t == 0"}],
       "mark": {"type": "text", "fontSize": 15.5, "align": "left", "color": "#111"},
       "encoding": {"x": {"datum": -1.43, "type": "quantitative"}, "y": {"field": "period", "type": "nominal", "axis": null}, "text": {"field": "period"}}}
     ]},
    {"width": 361, "height": 36, "layer": [
      {"data": {"values": [{}]}, "mark": {"type": "rect", "fill": "#d9d9d9", "stroke": "#555", "strokeWidth": 1.5},
       "encoding": {"x": {"datum": 0, "type": "quantitative", "scale": {"domain": [0, 100], "range": [-106, 392]}, "axis": null}, "x2": {"datum": 100}}},
      {"data": {"values": [{}]}, "mark": {"type": "rule", "stroke": "#555", "strokeWidth": 1.5}, "encoding": {"x": {"datum": 19.9, "type": "quantitative"}}},
      {"data": {"values": [{}]}, "mark": {"type": "rule", "stroke": "#555", "strokeWidth": 1.5}, "encoding": {"x": {"datum": 42.1, "type": "quantitative"}}},
      {"data": {"values": [{}]}, "mark": {"type": "rule", "stroke": "#555", "strokeWidth": 1.5}, "encoding": {"x": {"datum": 66.8, "type": "quantitative"}}},
      {"data": {"name": "thead"}, "mark": {"type": "text", "fontSize": 16, "fontWeight": "bold", "color": "#111"}, "encoding": {"x": {"datum": 9.95, "type": "quantitative"}, "y": {"field": "line", "type": "ordinal", "scale": {"type": "band", "paddingInner": 0, "paddingOuter": 0.05}, "axis": null}, "text": {"field": "c1"}}},
      {"data": {"name": "thead"}, "mark": {"type": "text", "fontSize": 16, "fontWeight": "bold", "color": "#111"}, "encoding": {"x": {"datum": 31.0, "type": "quantitative"}, "y": {"field": "line", "type": "ordinal", "axis": null}, "text": {"field": "c2"}}},
      {"data": {"name": "thead"}, "mark": {"type": "text", "fontSize": 16, "fontWeight": "bold", "color": "#111"}, "encoding": {"x": {"datum": 54.45, "type": "quantitative"}, "y": {"field": "line", "type": "ordinal", "axis": null}, "text": {"field": "c3"}}},
      {"data": {"name": "thead"}, "mark": {"type": "text", "fontSize": 16, "fontWeight": "bold", "color": "#111"}, "encoding": {"x": {"datum": 83.4, "type": "quantitative"}, "y": {"field": "line", "type": "ordinal", "axis": null}, "text": {"field": "c4"}}}
    ]},
    {"width": 361, "height": 302, "layer": [
      {"data": {"name": "tbl"}, "transform": [{"filter": "datum.panel == 'B' && datum.tp == '0.5'"}],
       "mark": {"type": "bar", "fill": "white", "stroke": "#555", "strokeWidth": 1.5},
       "encoding": {"x": {"datum": 0, "type": "quantitative", "scale": {"domain": [0, 100], "range": [-106, 392]}, "axis": null}, "x2": {"datum": 19.9},
                    "y": {"field": "period", "type": "nominal", "scale": {"domain": ["1982–1989","1990–1999","2000–2009","2010–2018"], "paddingInner": 0, "paddingOuter": 0}, "axis": null}}},
      {"data": {"name": "tbl"}, "transform": [{"filter": "datum.panel == 'B'"}],
       "mark": {"type": "bar", "fill": "white", "stroke": "#555", "strokeWidth": 1.5},
       "encoding": {"x": {"datum": 19.9, "type": "quantitative"}, "x2": {"datum": 100}, "y": {"field": "period", "type": "nominal", "axis": null},
                    "yOffset": {"field": "tp", "type": "nominal", "scale": {"domain": ["0.5","1","2","5"], "paddingInner": 0, "paddingOuter": 0}}}},
      {"data": {"values": [{}]}, "mark": {"type": "rule", "stroke": "#555", "strokeWidth": 1.5}, "encoding": {"x": {"datum": 42.1, "type": "quantitative"}}},
      {"data": {"values": [{}]}, "mark": {"type": "rule", "stroke": "#555", "strokeWidth": 1.5}, "encoding": {"x": {"datum": 66.8, "type": "quantitative"}}},
      {"data": {"name": "tbl"}, "transform": [{"filter": "datum.panel == 'B' && datum.tp == '0.5'"}],
       "mark": {"type": "text", "fontSize": 16, "color": "#111"},
       "encoding": {"x": {"datum": 9.95, "type": "quantitative"}, "y": {"field": "period", "type": "nominal", "axis": null}, "yOffset": {"field": "tp", "type": "nominal"}, "text": {"field": "period"}}},
      {"data": {"name": "tbl"}, "transform": [{"filter": "datum.panel == 'B'"}],
       "mark": {"type": "text", "fontSize": 16, "color": "#111"},
       "encoding": {"x": {"datum": 31.0, "type": "quantitative"}, "y": {"field": "period", "type": "nominal", "axis": null}, "yOffset": {"field": "tp", "type": "nominal"}, "text": {"field": "tp"}}},
      {"data": {"name": "tbl"}, "transform": [{"filter": "datum.panel == 'B'"}],
       "mark": {"type": "text", "fontSize": 16, "color": "#111"},
       "encoding": {"x": {"datum": 54.45, "type": "quantitative"}, "y": {"field": "period", "type": "nominal", "axis": null}, "yOffset": {"field": "tp", "type": "nominal"}, "text": {"field": "ci"}}},
      {"data": {"name": "tbl"}, "transform": [{"filter": "datum.panel == 'B'"}],
       "mark": {"type": "text", "fontSize": 16, "color": "#111"},
       "encoding": {"x": {"datum": 83.4, "type": "quantitative"}, "y": {"field": "period", "type": "nominal", "axis": null}, "yOffset": {"field": "tp", "type": "nominal"}, "text": {"field": "conf"}}}
    ]}
   ]
  }
 ]},
 {"spacing": 89, "hconcat": [
  {
   "title": {"text": "C\u00a0\u00a0\u00a0Matched other related and unrelated donors", "anchor": "start", "frame": "bounds", "fontSize": 23, "fontWeight": "normal", "offset": 15, "color": "#111"},
   "spacing": 0,
   "vconcat": [
    {"width": 361, "height": 307, "layer": [
      {"data": {"name": "km"}, "transform": [{"filter": "datum.panel == 'C'"}],
       "mark": {"type": "line", "interpolate": "step-after", "strokeWidth": 2.5},
       "encoding": {
         "x": {"field": "t", "type": "quantitative", "scale": {"domain": [0, 5], "nice": false, "zero": false}, "axis": {"values": [0,1,2,3,4,5], "format": "d", "title": "Years"}},
         "y": {"field": "s", "type": "quantitative", "scale": {"domain": [0, 1], "nice": false}, "axis": {"values": [0,0.2,0.4,0.6,0.8,1], "format": ".1f", "title": "Probability of Survival"}},
         "color": {"field": "period", "type": "nominal", "scale": {"domain": ["1982–1989","1990–1999","2000–2009","2010–2018"], "range": ["#F8766D","#7CAE00","#00BFC4","#C77CFF"]}, "legend": null}}},
      {"data": {"name": "ann"}, "transform": [{"filter": "datum.panel == 'C'"}],
       "mark": {"type": "text", "fontSize": 14.5, "fontWeight": "bold", "color": "#111"},
       "encoding": {"x": {"field": "t", "type": "quantitative"}, "y": {"field": "s", "type": "quantitative"}, "text": {"field": "label"}}}
    ]},
    {"width": 361, "height": 91,
     "title": {"text": "No. at Risk", "anchor": "start", "frame": "bounds", "fontSize": 18, "fontWeight": "bold", "offset": 8, "dx": -5, "color": "#111"},
     "data": {"name": "risk"}, "transform": [{"filter": "datum.panel == 'C'"}],
     "layer": [
      {"mark": {"type": "text", "fontSize": 15.5, "color": "#111"},
       "encoding": {"x": {"field": "t", "type": "quantitative", "scale": {"domain": [0, 5], "nice": false}, "axis": null},
                    "y": {"field": "period", "type": "nominal", "scale": {"type": "band", "domain": ["1982–1989","1990–1999","2000–2009","2010–2018"], "paddingInner": 0, "paddingOuter": 0.528, "align": 0}, "axis": null},
                    "text": {"field": "n"}}},
      {"transform": [{"filter": "datum.t == 0"}],
       "mark": {"type": "text", "fontSize": 15.5, "align": "left", "color": "#111"},
       "encoding": {"x": {"datum": -1.58, "type": "quantitative"}, "y": {"field": "period", "type": "nominal", "axis": null}, "text": {"field": "period"}}}
     ]},
    {"width": 361, "height": 36, "layer": [
      {"data": {"values": [{}]}, "mark": {"type": "rect", "fill": "#d9d9d9", "stroke": "#555", "strokeWidth": 1.5},
       "encoding": {"x": {"datum": 0, "type": "quantitative", "scale": {"domain": [0, 100], "range": [-115, 375]}, "axis": null}, "x2": {"datum": 100}}},
      {"data": {"values": [{}]}, "mark": {"type": "rule", "stroke": "#555", "strokeWidth": 1.5}, "encoding": {"x": {"datum": 19.9, "type": "quantitative"}}},
      {"data": {"values": [{}]}, "mark": {"type": "rule", "stroke": "#555", "strokeWidth": 1.5}, "encoding": {"x": {"datum": 42.1, "type": "quantitative"}}},
      {"data": {"values": [{}]}, "mark": {"type": "rule", "stroke": "#555", "strokeWidth": 1.5}, "encoding": {"x": {"datum": 66.8, "type": "quantitative"}}},
      {"data": {"name": "thead"}, "mark": {"type": "text", "fontSize": 16, "fontWeight": "bold", "color": "#111"}, "encoding": {"x": {"datum": 9.95, "type": "quantitative"}, "y": {"field": "line", "type": "ordinal", "scale": {"type": "band", "paddingInner": 0, "paddingOuter": 0.05}, "axis": null}, "text": {"field": "c1"}}},
      {"data": {"name": "thead"}, "mark": {"type": "text", "fontSize": 16, "fontWeight": "bold", "color": "#111"}, "encoding": {"x": {"datum": 31.0, "type": "quantitative"}, "y": {"field": "line", "type": "ordinal", "axis": null}, "text": {"field": "c2"}}},
      {"data": {"name": "thead"}, "mark": {"type": "text", "fontSize": 16, "fontWeight": "bold", "color": "#111"}, "encoding": {"x": {"datum": 54.45, "type": "quantitative"}, "y": {"field": "line", "type": "ordinal", "axis": null}, "text": {"field": "c3"}}},
      {"data": {"name": "thead"}, "mark": {"type": "text", "fontSize": 16, "fontWeight": "bold", "color": "#111"}, "encoding": {"x": {"datum": 83.4, "type": "quantitative"}, "y": {"field": "line", "type": "ordinal", "axis": null}, "text": {"field": "c4"}}}
    ]},
    {"width": 361, "height": 300, "layer": [
      {"data": {"name": "tbl"}, "transform": [{"filter": "datum.panel == 'C' && datum.tp == '0.5'"}],
       "mark": {"type": "bar", "fill": "white", "stroke": "#555", "strokeWidth": 1.5},
       "encoding": {"x": {"datum": 0, "type": "quantitative", "scale": {"domain": [0, 100], "range": [-115, 375]}, "axis": null}, "x2": {"datum": 19.9},
                    "y": {"field": "period", "type": "nominal", "scale": {"domain": ["1982–1989","1990–1999","2000–2009","2010–2018"], "paddingInner": 0, "paddingOuter": 0}, "axis": null}}},
      {"data": {"name": "tbl"}, "transform": [{"filter": "datum.panel == 'C'"}],
       "mark": {"type": "bar", "fill": "white", "stroke": "#555", "strokeWidth": 1.5},
       "encoding": {"x": {"datum": 19.9, "type": "quantitative"}, "x2": {"datum": 100}, "y": {"field": "period", "type": "nominal", "axis": null},
                    "yOffset": {"field": "tp", "type": "nominal", "scale": {"domain": ["0.5","1","2","5"], "paddingInner": 0, "paddingOuter": 0}}}},
      {"data": {"values": [{}]}, "mark": {"type": "rule", "stroke": "#555", "strokeWidth": 1.5}, "encoding": {"x": {"datum": 42.1, "type": "quantitative"}}},
      {"data": {"values": [{}]}, "mark": {"type": "rule", "stroke": "#555", "strokeWidth": 1.5}, "encoding": {"x": {"datum": 66.8, "type": "quantitative"}}},
      {"data": {"name": "tbl"}, "transform": [{"filter": "datum.panel == 'C' && datum.tp == '0.5'"}],
       "mark": {"type": "text", "fontSize": 16, "color": "#111"},
       "encoding": {"x": {"datum": 9.95, "type": "quantitative"}, "y": {"field": "period", "type": "nominal", "axis": null}, "yOffset": {"field": "tp", "type": "nominal"}, "text": {"field": "period"}}},
      {"data": {"name": "tbl"}, "transform": [{"filter": "datum.panel == 'C'"}],
       "mark": {"type": "text", "fontSize": 16, "color": "#111"},
       "encoding": {"x": {"datum": 31.0, "type": "quantitative"}, "y": {"field": "period", "type": "nominal", "axis": null}, "yOffset": {"field": "tp", "type": "nominal"}, "text": {"field": "tp"}}},
      {"data": {"name": "tbl"}, "transform": [{"filter": "datum.panel == 'C'"}],
       "mark": {"type": "text", "fontSize": 16, "color": "#111"},
       "encoding": {"x": {"datum": 54.45, "type": "quantitative"}, "y": {"field": "period", "type": "nominal", "axis": null}, "yOffset": {"field": "tp", "type": "nominal"}, "text": {"field": "ci"}}},
      {"data": {"name": "tbl"}, "transform": [{"filter": "datum.panel == 'C'"}],
       "mark": {"type": "text", "fontSize": 16, "color": "#111"},
       "encoding": {"x": {"datum": 83.4, "type": "quantitative"}, "y": {"field": "period", "type": "nominal", "axis": null}, "yOffset": {"field": "tp", "type": "nominal"}, "text": {"field": "conf"}}}
    ]}
   ]
  },
  {
   "title": {"text": "D\u00a0\u00a0\u00a0Mismatched related donors", "anchor": "start", "frame": "bounds", "fontSize": 23, "fontWeight": "normal", "offset": 15, "color": "#111"},
   "spacing": 0,
   "vconcat": [
    {"width": 361, "height": 307, "layer": [
      {"data": {"name": "km"}, "transform": [{"filter": "datum.panel == 'D'"}],
       "mark": {"type": "line", "interpolate": "step-after", "strokeWidth": 2.5},
       "encoding": {
         "x": {"field": "t", "type": "quantitative", "scale": {"domain": [0, 5], "nice": false, "zero": false}, "axis": {"values": [0,1,2,3,4,5], "format": "d", "title": "Years"}},
         "y": {"field": "s", "type": "quantitative", "scale": {"domain": [0, 1], "nice": false}, "axis": {"values": [0,0.2,0.4,0.6,0.8,1], "format": ".1f", "title": "Probability of Survival"}},
         "color": {"field": "period", "type": "nominal", "scale": {"domain": ["1982–1989","1990–1999","2000–2009","2010–2018"], "range": ["#F8766D","#7CAE00","#00BFC4","#C77CFF"]}, "legend": null}}},
      {"data": {"name": "arrows"}, "transform": [{"filter": "datum.panel == 'D'"}],
       "mark": {"type": "rule", "strokeWidth": 2.5, "color": "#111"},
       "encoding": {"x": {"field": "t", "type": "quantitative"}, "y": {"field": "s0", "type": "quantitative"}, "y2": {"field": "s1"}}},
      {"data": {"name": "arrows"}, "transform": [{"filter": "datum.panel == 'D'"}],
       "mark": {"type": "point", "shape": "M-1,1.4L0,0L1,1.4", "size": 130, "filled": false, "strokeWidth": 2.5, "color": "#111", "opacity": 1},
       "encoding": {"x": {"field": "t", "type": "quantitative"}, "y": {"field": "s1", "type": "quantitative"}}},
      {"data": {"name": "ann"}, "transform": [{"filter": "datum.panel == 'D'"}],
       "mark": {"type": "text", "fontSize": 14.5, "fontWeight": "bold", "color": "#111"},
       "encoding": {"x": {"field": "t", "type": "quantitative"}, "y": {"field": "s", "type": "quantitative"}, "text": {"field": "label"}}}
    ]},
    {"width": 361, "height": 91,
     "title": {"text": "No. at Risk", "anchor": "start", "frame": "bounds", "fontSize": 18, "fontWeight": "bold", "offset": 8, "dx": -17, "color": "#111"},
     "data": {"name": "risk"}, "transform": [{"filter": "datum.panel == 'D'"}],
     "layer": [
      {"mark": {"type": "text", "fontSize": 15.5, "color": "#111"},
       "encoding": {"x": {"field": "t", "type": "quantitative", "scale": {"domain": [0, 5], "nice": false}, "axis": null},
                    "y": {"field": "period", "type": "nominal", "scale": {"type": "band", "domain": ["1982–1989","1990–1999","2000–2009","2010–2018"], "paddingInner": 0, "paddingOuter": 0.528, "align": 0}, "axis": null},
                    "text": {"field": "n"}}},
      {"transform": [{"filter": "datum.t == 0"}],
       "mark": {"type": "text", "fontSize": 15.5, "align": "left", "color": "#111"},
       "encoding": {"x": {"datum": -1.47, "type": "quantitative"}, "y": {"field": "period", "type": "nominal", "axis": null}, "text": {"field": "period"}}}
     ]},
    {"width": 361, "height": 36, "layer": [
      {"data": {"values": [{}]}, "mark": {"type": "rect", "fill": "#d9d9d9", "stroke": "#555", "strokeWidth": 1.5},
       "encoding": {"x": {"datum": 0, "type": "quantitative", "scale": {"domain": [0, 100], "range": [-111, 381]}, "axis": null}, "x2": {"datum": 100}}},
      {"data": {"values": [{}]}, "mark": {"type": "rule", "stroke": "#555", "strokeWidth": 1.5}, "encoding": {"x": {"datum": 19.9, "type": "quantitative"}}},
      {"data": {"values": [{}]}, "mark": {"type": "rule", "stroke": "#555", "strokeWidth": 1.5}, "encoding": {"x": {"datum": 42.1, "type": "quantitative"}}},
      {"data": {"values": [{}]}, "mark": {"type": "rule", "stroke": "#555", "strokeWidth": 1.5}, "encoding": {"x": {"datum": 66.8, "type": "quantitative"}}},
      {"data": {"name": "thead"}, "mark": {"type": "text", "fontSize": 16, "fontWeight": "bold", "color": "#111"}, "encoding": {"x": {"datum": 9.95, "type": "quantitative"}, "y": {"field": "line", "type": "ordinal", "scale": {"type": "band", "paddingInner": 0, "paddingOuter": 0.05}, "axis": null}, "text": {"field": "c1"}}},
      {"data": {"name": "thead"}, "mark": {"type": "text", "fontSize": 16, "fontWeight": "bold", "color": "#111"}, "encoding": {"x": {"datum": 31.0, "type": "quantitative"}, "y": {"field": "line", "type": "ordinal", "axis": null}, "text": {"field": "c2"}}},
      {"data": {"name": "thead"}, "mark": {"type": "text", "fontSize": 16, "fontWeight": "bold", "color": "#111"}, "encoding": {"x": {"datum": 54.45, "type": "quantitative"}, "y": {"field": "line", "type": "ordinal", "axis": null}, "text": {"field": "c3"}}},
      {"data": {"name": "thead"}, "mark": {"type": "text", "fontSize": 16, "fontWeight": "bold", "color": "#111"}, "encoding": {"x": {"datum": 83.4, "type": "quantitative"}, "y": {"field": "line", "type": "ordinal", "axis": null}, "text": {"field": "c4"}}}
    ]},
    {"width": 361, "height": 300, "layer": [
      {"data": {"name": "tbl"}, "transform": [{"filter": "datum.panel == 'D' && datum.tp == '0.5'"}],
       "mark": {"type": "bar", "fill": "white", "stroke": "#555", "strokeWidth": 1.5},
       "encoding": {"x": {"datum": 0, "type": "quantitative", "scale": {"domain": [0, 100], "range": [-111, 381]}, "axis": null}, "x2": {"datum": 19.9},
                    "y": {"field": "period", "type": "nominal", "scale": {"domain": ["1982–1989","1990–1999","2000–2009","2010–2018"], "paddingInner": 0, "paddingOuter": 0}, "axis": null}}},
      {"data": {"name": "tbl"}, "transform": [{"filter": "datum.panel == 'D'"}],
       "mark": {"type": "bar", "fill": "white", "stroke": "#555", "strokeWidth": 1.5},
       "encoding": {"x": {"datum": 19.9, "type": "quantitative"}, "x2": {"datum": 100}, "y": {"field": "period", "type": "nominal", "axis": null},
                    "yOffset": {"field": "tp", "type": "nominal", "scale": {"domain": ["0.5","1","2","5"], "paddingInner": 0, "paddingOuter": 0}}}},
      {"data": {"values": [{}]}, "mark": {"type": "rule", "stroke": "#555", "strokeWidth": 1.5}, "encoding": {"x": {"datum": 42.1, "type": "quantitative"}}},
      {"data": {"values": [{}]}, "mark": {"type": "rule", "stroke": "#555", "strokeWidth": 1.5}, "encoding": {"x": {"datum": 66.8, "type": "quantitative"}}},
      {"data": {"name": "tbl"}, "transform": [{"filter": "datum.panel == 'D' && datum.tp == '0.5'"}],
       "mark": {"type": "text", "fontSize": 16, "color": "#111"},
       "encoding": {"x": {"datum": 9.95, "type": "quantitative"}, "y": {"field": "period", "type": "nominal", "axis": null}, "yOffset": {"field": "tp", "type": "nominal"}, "text": {"field": "period"}}},
      {"data": {"name": "tbl"}, "transform": [{"filter": "datum.panel == 'D'"}],
       "mark": {"type": "text", "fontSize": 16, "color": "#111"},
       "encoding": {"x": {"datum": 31.0, "type": "quantitative"}, "y": {"field": "period", "type": "nominal", "axis": null}, "yOffset": {"field": "tp", "type": "nominal"}, "text": {"field": "tp"}}},
      {"data": {"name": "tbl"}, "transform": [{"filter": "datum.panel == 'D'"}],
       "mark": {"type": "text", "fontSize": 16, "color": "#111"},
       "encoding": {"x": {"datum": 54.45, "type": "quantitative"}, "y": {"field": "period", "type": "nominal", "axis": null}, "yOffset": {"field": "tp", "type": "nominal"}, "text": {"field": "ci"}}},
      {"data": {"name": "tbl"}, "transform": [{"filter": "datum.panel == 'D'"}],
       "mark": {"type": "text", "fontSize": 16, "color": "#111"},
       "encoding": {"x": {"datum": 83.4, "type": "quantitative"}, "y": {"field": "period", "type": "nominal", "axis": null}, "yOffset": {"field": "tp", "type": "nominal"}, "text": {"field": "conf"}}}
    ]}
   ]
  }
 ]}
]
}
